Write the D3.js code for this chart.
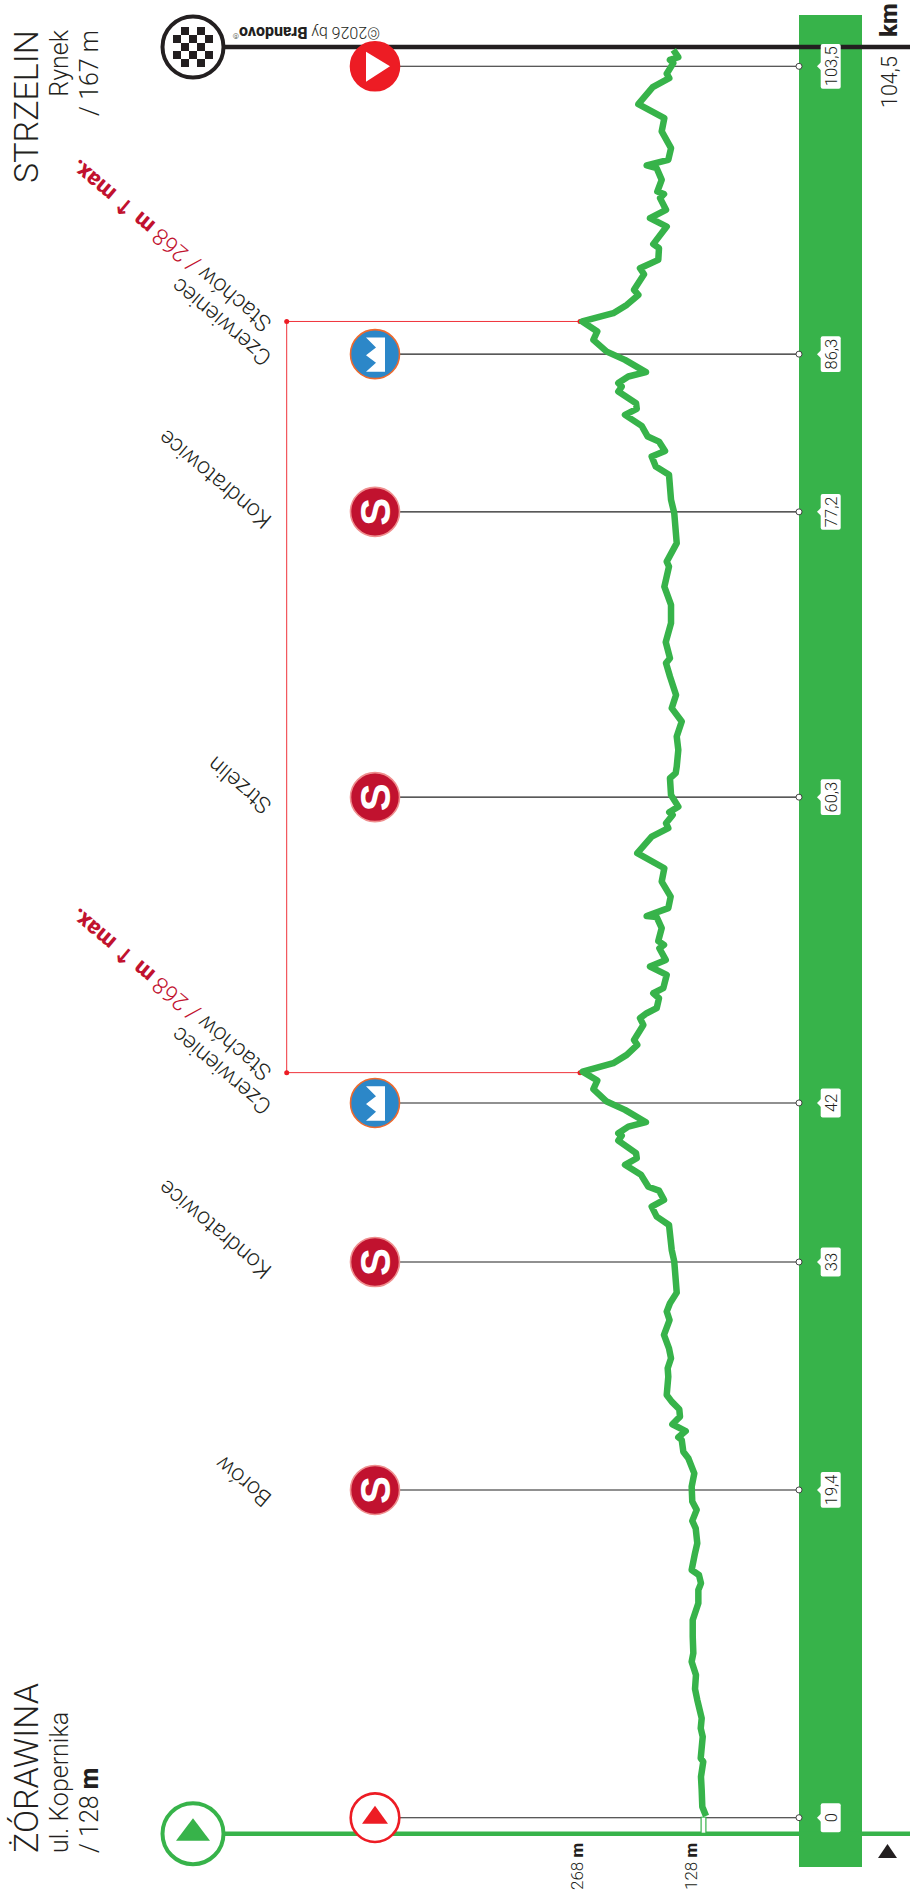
<!DOCTYPE html>
<html>
<head>
<meta charset="utf-8">
<script src="https://cdn.jsdelivr.net/npm/d3@7"></script>
<style>
  html, body { margin: 0; padding: 0; background: #fff; }
  svg { display: block; }
  text { font-family: Roboto, "Liberation Sans", sans-serif; font-weight: 300; fill: #231f20; }
  .bold { font-weight: 800; }
</style>
</head>
<body>
<svg id="profile"></svg>
<script>
// Route profile: distance in km and height in metres
const profileKm = [0.10,0.65,1.64,2.42,3.31,3.51,4.79,5.28,5.87,6.96,7.61,8.43,9.22,9.72,10.70,11.68,12.67,13.46,13.85,14.34,
  14.64,15.63,16.22,17.10,17.54,18.19,18.68,19.56,20.35,21.24,21.63,22.32,22.48,22.85,23.25,23.70,24.14,24.59,24.98,26.06,
  26.56,27.15,27.74,28.53,29.41,29.91,30.40,31.03,32.86,33.55,35.03,35.52,36.11,36.51,37.06,37.29,37.99,38.58,38.97,39.27,
  40.01,40.31,40.45,40.84,41.10,41.83,42.32,43.05,43.56,44.09,44.59,45.08,45.67,45.96,46.85,47.25,47.54,47.84,48.43,48.72,
  49.02,49.81,50.30,50.69,51.38,51.58,51.81,52.57,53.22,53.29,53.75,54.43,55.32,56.11,57.00,57.98,58.48,58.77,59.26,59.42,
  59.75,60.44,61.43,61.73,62.12,63.10,63.89,64.78,65.57,66.35,67.44,68.23,68.52,69.47,70.59,71.67,72.75,73.94,74.23,75.32,
  77.09,77.88,79.36,79.85,80.44,80.77,81.32,81.62,82.25,82.90,83.26,83.59,84.28,84.57,84.78,85.17,85.43,86.15,86.64,87.33,
  87.83,88.42,88.91,89.40,89.99,90.29,91.21,91.57,92.06,92.75,92.99,94.03,94.53,95.02,95.71,95.95,96.10,96.79,97.48,97.64,
  97.97,98.66,99.65,100.44,101.26,102.27,102.80,103.06,103.69,103.88,104.04,104.47];
const profileElev = [124.6,128.8,129.5,130.3,127.7,130.6,128.3,130.6,129.5,134.5,137.1,136,140.9,139,139.7,139.7,133.3,133.3,130.3,132.6,
  140.9,137.1,134.5,136.3,140.2,135.2,140.2,140.9,137.9,144.7,150.4,152.2,156.1,147.7,162.9,154.2,155,163.6,169.3,167.5,
  168.2,164.4,166.7,172.4,166.1,169.3,165.6,157.9,160.7,163.6,166.7,180.7,186.4,172.4,178.1,190.2,198.6,216.8,203.4,204.2,
  224.4,220.5,224.4,213,192.9,216.8,237.6,252.8,248.3,265,230.1,214.8,202.8,206.5,195.9,199.7,192.1,180.7,178.1,184.6,
  173.2,169.3,188.3,170.4,177.7,172.4,178.9,175,180.7,192.1,167.5,164.8,175,172,202.8,186.4,167.5,170.1,162.5,166.4,
  156.1,164.4,165.6,159.1,157.9,156.1,157.9,152.2,163.6,158.7,165.6,170.1,165.6,170.4,164.4,164.4,172,166.7,169.3,157.9,
  160.7,164.4,166.7,181.8,186.4,171.2,178.1,190.9,197.8,216.8,203.4,204.2,224.4,220.5,224.4,213,192.9,216.8,237.6,252.8,
  248.3,265.4,230.1,214.8,201.6,206.5,195.1,199.7,178.9,178.1,184.6,169.3,188.3,170.1,176.9,172.4,180,175,180.7,192.1,
  167.5,164.4,175,172,201.6,185.2,166.4,169.3,161.8,165.6,156.1,161.8];

// Checkpoints: where each one sits along the route, and what its flag says
const checkpointKm = [0, 19.37, 32.84, 42.24, 60.31, 77.17, 86.49, 103.5];
const checkpointLabels = ['0', '19,4', '33', '42', '60,3', '77,2', '86,3', '103,5'];
const checkpointTypes = ['start', 'sprint', 'sprint', 'climb', 'sprint', 'sprint', 'climb', 'finish'];
const checkpointNames = [null, ['Borów'], ['Kondratowice'], ['Czerwieniec', 'Stachów'], ['Strzelin'], ['Kondratowice'], ['Czerwieniec', 'Stachów'], null];

// Highest points of the two laps
const summitKm = [44.03, 88.42];
const summitElev = 268;

// Height tick labels under the profile
const elevTicks = [128, 268];

class ProfileChart {

    constructor(_config) {
        this.config = {
            parentElement: _config.parentElement,
            containerWidth: 910,
            containerHeight: 1897
        };
        this.initVis();
    }

    initVis() {
        let vis = this;

        vis.svg = d3.select(vis.config.parentElement)
            .attr('width', vis.config.containerWidth)
            .attr('height', vis.config.containerHeight);

        // The chart is drawn turned on its side: km runs bottom to top, height runs right to left
        vis.yScale = d3.scaleLinear().domain([0, 103.5]).range([1817.7, 66.3]);
        vis.xScale = d3.scaleLinear().domain([128, 268]).range([703, 580]);

        vis.line = d3.line()
            .x(d => vis.xScale(d.elev))
            .y(d => vis.yScale(d.km))
            .curve(d3.curveLinear);

        vis.profile = profileKm.map((km, i) => ({km: km, elev: profileElev[i]}));
        vis.checkpoints = checkpointKm.map((km, i) => ({
            km: km, label: checkpointLabels[i], type: checkpointTypes[i], name: checkpointNames[i]
        }));

        vis.renderVis();
    }

    // rotated text helper, reads bottom to top unless told otherwise
    addText(x, y, size, anchor, angle) {
        return this.svg.append('text')
            .attr('transform', `translate(${x},${y}) rotate(${angle === undefined ? -90 : angle})`)
            .attr('font-size', size)
            .attr('text-anchor', anchor || 'start');
    }

    renderVis() {
        let vis = this;
        const green = '#37b34a', black = '#231f20', red = '#ed1c24', crimson = '#c1122f';
        const startY = 1833.7, finishY = 47, iconX = 375, barX = 799, barW = 63, ringX = 193;

        // km bar
        vis.svg.append('rect')
            .attr('x', barX).attr('y', 15)
            .attr('width', barW).attr('height', 1852)
            .attr('fill', green);

        // Start and finish lines
        vis.svg.append('line')
            .attr('x1', ringX).attr('x2', 910)
            .attr('y1', startY).attr('y2', startY)
            .attr('stroke', green).attr('stroke-width', 4.5);
        vis.svg.append('line')
            .attr('x1', ringX).attr('x2', 910)
            .attr('y1', finishY).attr('y2', finishY)
            .attr('stroke', black).attr('stroke-width', 4.5);

        // Summit bracket
        const bracketX = 286.7;
        vis.svg.append('line')
            .attr('x1', bracketX).attr('x2', bracketX)
            .attr('y1', vis.yScale(summitKm[0])).attr('y2', vis.yScale(summitKm[1]))
            .attr('stroke', red).attr('stroke-width', 0.9);
        summitKm.forEach(km => {
            vis.svg.append('line')
                .attr('x1', bracketX).attr('x2', vis.xScale(summitElev))
                .attr('y1', vis.yScale(km)).attr('y2', vis.yScale(km))
                .attr('stroke', red).attr('stroke-width', 0.9);
            vis.svg.selectAll(null)
                .data([bracketX, vis.xScale(summitElev)])
                .join('circle')
                .attr('cx', d => d).attr('cy', vis.yScale(km)).attr('r', 2.5)
                .attr('fill', red);
        });

        // Leader lines
        vis.svg.selectAll('.leader')
            .data(vis.checkpoints)
            .join('line')
            .attr('class', 'leader')
            .attr('x1', iconX).attr('x2', barX)
            .attr('y1', d => vis.yScale(d.km)).attr('y2', d => vis.yScale(d.km))
            .attr('stroke', '#222').attr('stroke-width', 1.1);

        // Profile
        vis.svg.append('path')
            .datum(vis.profile)
            .attr('d', vis.line)
            .attr('fill', 'none')
            .attr('stroke', green)
            .attr('stroke-width', 6.5)
            .attr('stroke-linejoin', 'round')
            .attr('stroke-linecap', 'butt');

        // Small white notch between km 0 and the start line
        const notchX = vis.xScale(128) + 0.5;
        vis.svg.append('line')
            .attr('x1', notchX).attr('x2', notchX)
            .attr('y1', vis.yScale(0) - 1).attr('y2', startY - 1)
            .attr('stroke', green).attr('stroke-width', 6);
        vis.svg.append('line')
            .attr('x1', notchX).attr('x2', notchX)
            .attr('y1', vis.yScale(0)).attr('y2', startY - 1)
            .attr('stroke', '#fff').attr('stroke-width', 3.6);

        // Checkpoint dots and flags on the bar
        vis.svg.selectAll('.dot')
            .data(vis.checkpoints)
            .join('circle')
            .attr('class', 'dot')
            .attr('cx', barX).attr('cy', d => vis.yScale(d.km)).attr('r', 3)
            .attr('fill', '#fff').attr('stroke', '#333').attr('stroke-width', 0.9);

        const flags = vis.svg.selectAll('.flag')
            .data(vis.checkpoints)
            .join('g')
            .attr('class', 'flag')
            .attr('transform', d => `translate(0,${vis.yScale(d.km)})`);
        const flagText = flags.append('text')
            .attr('transform', 'translate(836.5,0) rotate(-90)')
            .attr('text-anchor', 'middle')
            .attr('font-size', 16.5)
            .attr('font-weight', 400)
            .text(d => d.label);
        flagText.each(function(d) { d.boxLen = Math.max(29, this.getComputedTextLength() + 5); });
        flags.insert('rect', 'text')
            .attr('x', 820.7).attr('width', 20)
            .attr('y', d => -d.boxLen / 2).attr('height', d => d.boxLen)
            .attr('rx', 2).attr('fill', '#fff');
        flags.insert('path', 'text')
            .attr('d', 'M817,0L821,-4L821,4Z')
            .attr('fill', '#fff');

        // Checkpoint icons
        const icons = vis.svg.selectAll('.icon')
            .data(vis.checkpoints)
            .join('g')
            .attr('class', 'icon')
            .attr('transform', d => `translate(${iconX},${vis.yScale(d.km)})`);
        icons.append('circle')
            .attr('r', d => d.type === 'start' ? 24.3 : 24.5)
            .attr('fill', d => ({start: '#fff', sprint: crimson, climb: '#2c87c8', finish: red})[d.type])
            .attr('stroke', d => ({start: red, sprint: '#ef8f8f', climb: '#ee6a2e', finish: red})[d.type])
            .attr('stroke-width', d => d.type === 'start' ? 2.6 : 1.6);
        icons.filter(d => d.type === 'sprint').append('text')
            .attr('transform', 'rotate(-90)')
            .attr('y', 15)
            .attr('text-anchor', 'middle')
            .attr('font-size', 42)
            .attr('class', 'bold')
            .style('font-family', '"Liberation Sans"')
            .style('font-weight', 700)
            .style('fill', '#fff')
            .text('S');
        icons.filter(d => d.type === 'climb').append('path')
            .attr('d', 'M-9,-16.7L10,-16.7L10,17.7L-9,17.7L1,8.7L-9,1L1,-6.7Z')
            .attr('fill', '#fff');
        icons.filter(d => d.type === 'finish').append('path')
            .attr('d', 'M-9,-14.5L15,0L-9,15.5Z')
            .attr('fill', '#fff');
        icons.filter(d => d.type === 'start').append('path')
            .attr('d', 'M0,-12L13,6L-13,6Z')
            .attr('fill', red);

        // Start ring
        vis.svg.append('circle')
            .attr('cx', ringX).attr('cy', startY).attr('r', 30.5)
            .attr('fill', '#fff').attr('stroke', green).attr('stroke-width', 4);
        vis.svg.append('path')
            .attr('transform', `translate(${ringX},${startY})`)
            .attr('d', 'M0,-15.5L17,7L-17,7Z')
            .attr('fill', green);

        // Finish ring with chequered flag
        vis.svg.append('circle')
            .attr('cx', ringX).attr('cy', finishY).attr('r', 30.5)
            .attr('fill', '#fff').attr('stroke', black).attr('stroke-width', 4);
        const cells = d3.cross(d3.range(5), d3.range(5)).filter(d => (d[0] + d[1]) % 2 === 1);
        vis.svg.selectAll('.cell')
            .data(cells)
            .join('rect')
            .attr('class', 'cell')
            .attr('x', d => ringX - 20 + d[0] * 8).attr('y', d => finishY - 20 + d[1] * 8)
            .attr('width', 8).attr('height', 8)
            .attr('fill', black);

        // Copyright, upside down
        const copy = vis.addText(380, 27, 16, 'start', 180);
        copy.append('tspan').text('©2026 by ');
        copy.append('tspan').attr('class', 'bold').text('Brandovo');
        copy.append('tspan').attr('font-size', 8).attr('dy', -6).text('®');

        // Start block
        vis.addText(38, 1853, 34).text('ŻÓRAWINA');
        vis.addText(68, 1853, 25).text('ul. Kopernika');
        const startElev = vis.addText(98, 1853, 25);
        startElev.append('tspan').text('/ 128 ');
        startElev.append('tspan').attr('class', 'bold').text('m');

        // Finish block
        vis.addText(38, 30, 34, 'end').text('STRZELIN');
        vis.addText(68, 30, 25, 'end').text('Rynek');
        vis.addText(98, 30, 25, 'end').text('/ 167 m');

        // km label and total
        vis.addText(897, 37, 24).attr('class', 'bold').text('km');
        vis.addText(897, 108, 21.5).text('104,5');

        // Triangle under the bar
        vis.svg.append('path')
            .attr('transform', 'translate(887.5,1844)')
            .attr('d', 'M0,0L9.5,14L-9.5,14Z')
            .attr('fill', black);

        // Height ticks
        elevTicks.forEach(t => {
            const label = vis.addText(vis.xScale(t) - (t === 128 ? 6 : -3), 1890, 17);
            label.append('tspan').text(`${t} `);
            label.append('tspan').attr('class', 'bold').text('m');
        });

        // Place names, slanted
        const nameAngle = -140;
        vis.checkpoints.filter(d => d.name).forEach(d => {
            const y = vis.yScale(d.km);
            if (d.name.length === 1) {
                vis.addText(273, y + 6, 23, 'start', nameAngle).text(d.name[0]);
            } else {
                vis.addText(273, y + 1, 23, 'start', nameAngle).text(d.name[0]);
                const second = vis.addText(273, y - 33, 23, 'start', nameAngle);
                second.append('tspan').text(`${d.name[1]} `);
                second.append('tspan').style('fill', crimson).text(`/ ${summitElev} `);
                const maxText = second.append('tspan').attr('class', 'bold').style('fill', crimson);
                maxText.append('tspan').text('m ');
                maxText.append('tspan').style('font-family', '"DejaVu Sans"').style('font-weight', 700).text('↑');
                maxText.append('tspan').text(' max.');
            }
        });
    }
}

new ProfileChart({parentElement: '#profile'});
</script>
</body>
</html>
